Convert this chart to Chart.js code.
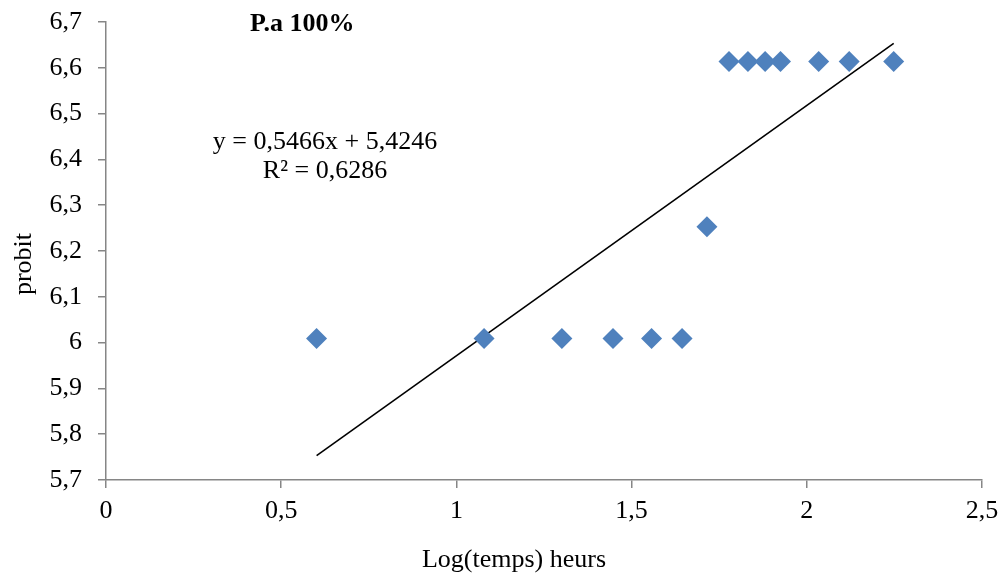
<!DOCTYPE html>
<html>
<head>
<meta charset="utf-8">
<script src="https://cdn.jsdelivr.net/npm/chart.js@4.4.0/dist/chart.umd.min.js"></script>
<style>
  html, body { margin: 0; padding: 0; background: #ffffff; }
  #wrap { width: 1001px; height: 574px; position: relative; }
</style>
</head>
<body>
<div id="wrap"><canvas id="chart" width="1001" height="574"></canvas></div>
<script>
// Log of exposure time (hours) and the matching probit values
const logTime = [0.601, 1.079, 1.301, 1.447, 1.557, 1.644, 1.715, 1.778, 1.832, 1.881, 1.925, 2.034, 2.121, 2.248];
const probit  = [6.009, 6.009, 6.009, 6.009, 6.009, 6.009, 6.253, 6.614, 6.614, 6.614, 6.614, 6.614, 6.614, 6.614];

// Linear fit reported on the chart
const slope = [0.5466];
const intercept = [5.4246];
const rSquared = ['0,6286'];

const titleText = 'P.a 100%';
const xTitle = 'Log(temps) heurs';
const yTitle = 'probit';

const FONT = "'Liberation Serif', 'Times New Roman', serif";
const SIZE = 26;
const AXIS = '#868686';
const MARK = '#4F81BD';

const points = logTime.map((x, i) => ({ x: x, y: probit[i] }));
const xMin = Math.min(...logTime), xMax = Math.max(...logTime);
const trend = [xMin, xMax].map(x => ({ x: x, y: slope[0] * x + intercept[0] }));

const fmt = v => String(Math.round(v * 10) / 10).replace('.', ',');
const fmtCoef = v => v.toFixed(4).replace('.', ',');

// Title, axis titles and regression equation
const textPlugin = {
  id: 'chartText',
  afterDraw(chart) {
    const ctx = chart.ctx;
    const xs = chart.scales.x, ys = chart.scales.y;
    ctx.save();
    ctx.fillStyle = '#000000';
    ctx.textAlign = 'center';
    ctx.textBaseline = 'middle';
    ctx.font = "bold " + SIZE + "px " + FONT;
    ctx.fillText(titleText, xs.getPixelForValue(0.56), ys.getPixelForValue(6.695));
    ctx.font = SIZE + "px " + FONT;
    const eq = 'y = ' + fmtCoef(slope[0]) + 'x + ' + fmtCoef(intercept[0]);
    ctx.fillText(eq, xs.getPixelForValue(0.625), ys.getPixelForValue(6.438));
    ctx.fillText('R\u00b2 = ' + rSquared[0], xs.getPixelForValue(0.625), ys.getPixelForValue(6.374));

    // axis titles
    ctx.textBaseline = 'alphabetic';
    ctx.fillText(xTitle, 514, 567);
    ctx.translate(31, 264);
    ctx.rotate(-Math.PI / 2);
    ctx.fillText(yTitle, 0, 0);
    ctx.restore();
  }
};

new Chart(document.getElementById('chart'), {
  type: 'scatter',
  data: {
    datasets: [
      {
        type: 'line',
        data: trend,
        borderColor: '#000000',
        borderWidth: 1.6,
        pointRadius: 0,
        fill: false,
        order: 2
      },
      {
        data: points,
        pointStyle: 'rectRot',
        pointRadius: 10.5,
        pointHoverRadius: 10.5,
        backgroundColor: MARK,
        borderColor: MARK,
        borderWidth: 0,
        order: 1
      }
    ]
  },
  options: {
    responsive: false,
    animation: false,
    events: [],
    layout: { padding: { left: 0, right: 19, top: 22, bottom: 0 } },
    plugins: {
      legend: { display: false },
      tooltip: { enabled: false },
      title: { display: false }
    },
    scales: {
      x: {
        type: 'linear',
        min: 0,
        max: 2.5,
        afterFit: s => { s.height = 94; s.paddingLeft = 0; s.paddingRight = 0; },
        border: { display: true, color: AXIS, width: 1.5 },
        grid: { display: true, drawOnChartArea: false, drawTicks: true, tickLength: 8, color: AXIS, lineWidth: 1.5 },
        ticks: {
          stepSize: 0.5,
          color: '#000000',
          padding: 8,
          maxRotation: 0,
          font: { family: FONT, size: SIZE },
          callback: v => fmt(v)
        }
      },
      y: {
        type: 'linear',
        min: 5.7,
        max: 6.7,
        afterFit: s => { s.width = 106; s.paddingTop = 0; s.paddingBottom = 0; },
        border: { display: true, color: AXIS, width: 1.5 },
        grid: { display: true, drawOnChartArea: false, drawTicks: true, tickLength: 8, color: AXIS, lineWidth: 1.5 },
        ticks: {
          stepSize: 0.1,
          color: '#000000',
          padding: 16,
          font: { family: FONT, size: SIZE },
          callback: v => fmt(v)
        }
      }
    }
  },
  plugins: [textPlugin]
});
</script>
</body>
</html>
